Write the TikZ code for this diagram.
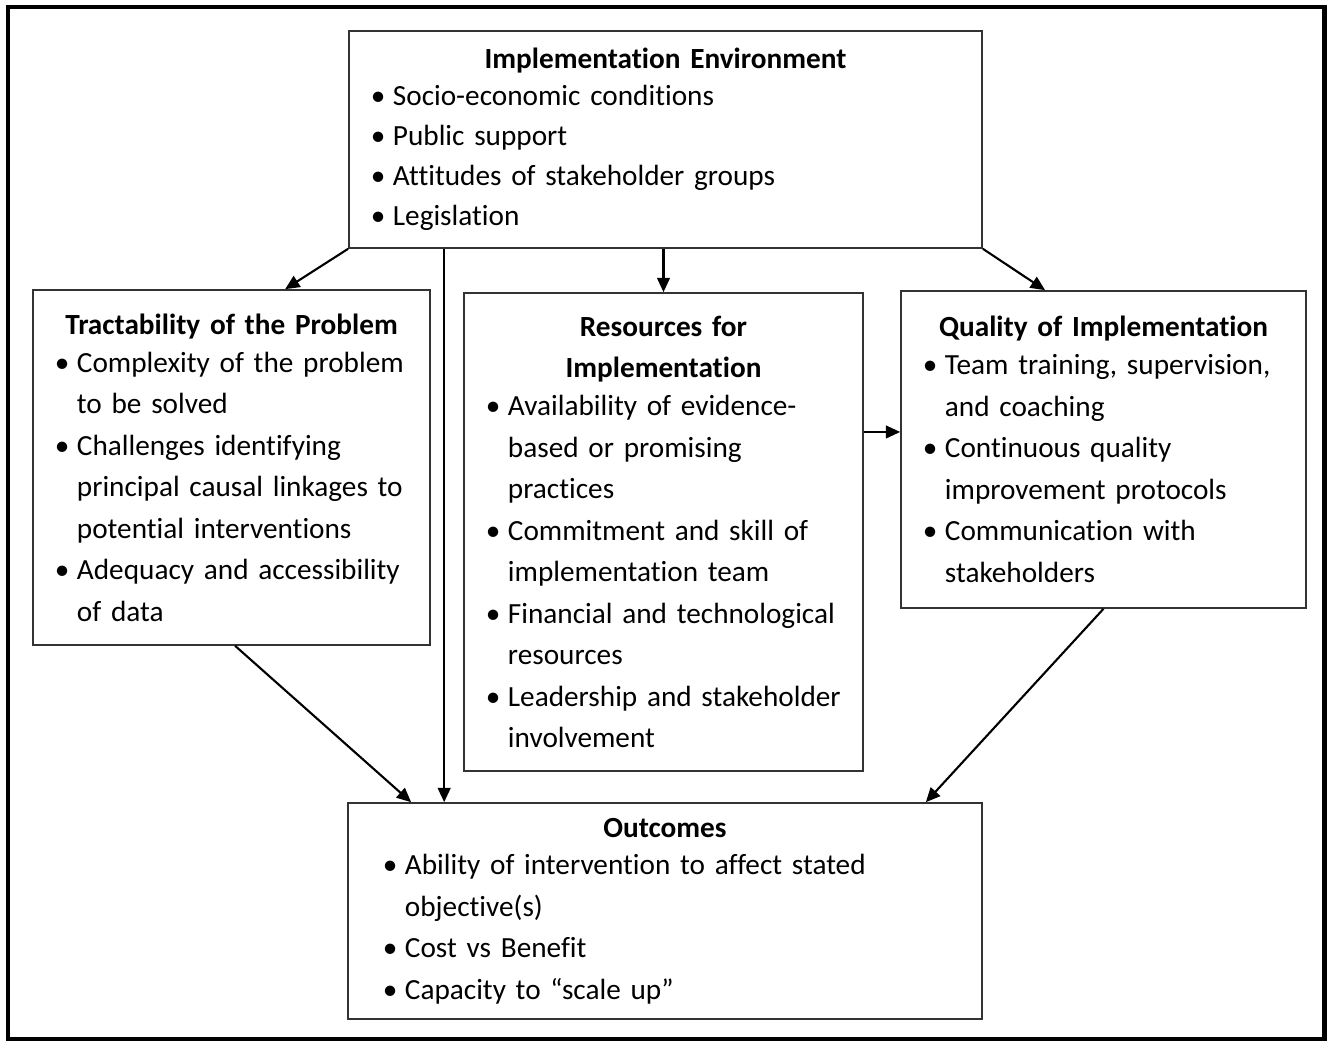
\documentclass[tikz,border=0pt]{standalone}
\usepackage{fontspec}
\setmainfont{Carlito}[Ligatures=NoCommon]
\usetikzlibrary{arrows.meta,calc,positioning}
\tikzset{
  box/.style={draw=black!80,line width=1.1pt,inner ysep=0pt,align=left,
    font=\fontsize{20.8pt}{29.5pt}\selectfont},
  arr/.style={-{Triangle[length=0.36cm,width=0.32cm]},line width=1.5pt},
}
\newcommand{\bitem}[1]{\par\hangindent=0.55cm\hangafter=1\noindent\makebox[0.55cm][l]{\textbullet}#1}
\newcommand{\boxtitle}[1]{{\centering\bfseries #1\par}\vspace{-2.5pt}}

\begin{document}
\begin{tikzpicture}[x=0.025cm,y=-0.025cm]
\useasboundingbox (0,0) rectangle (1330,1043);
\draw[line width=3.5pt] (8,7) rectangle (1324.5,1039);

\node[box,font=\fontsize{20.8pt}{28.5pt}\selectfont,inner xsep=0.55cm,text width=14.725cm,minimum height=5.425cm] (env) at (665.5,139.5) {%
  \boxtitle{Implementation Environment}
  \bitem{Socio-economic conditions}
  \bitem{Public support}
  \bitem{Attitudes of stakeholder groups}
  \bitem{Legislation}\par};
\node[box,inner xsep=0.55cm,text width=8.825cm,minimum height=8.875cm] (tract) at (231.5,467.5) {%
  \boxtitle{Tractability of the Problem}
  \bitem{Complexity of the problem\newline to be solved}
  \bitem{Challenges identifying\newline principal causal linkages to\newline potential interventions}
  \bitem{Adequacy and accessibility\newline of data}\par};
\node[box,inner xsep=0.55cm,text width=8.875cm,minimum height=11.95cm] (res) at (663.5,532) {%
  \boxtitle{Resources for\\Implementation}
  \bitem{Availability of evidence-\newline based or promising\newline practices}
  \bitem{Commitment and skill of\newline implementation team}
  \bitem{Financial and technological\newline resources}
  \bitem{Leadership and stakeholder\newline involvement}\par};
\node[box,inner xsep=0.55cm,text width=9.025cm,minimum height=7.925cm] (qual) at (1103.5,449.5) {%
  \boxtitle{Quality of Implementation}
  \bitem{Team training, supervision,\newline and coaching}
  \bitem{Continuous quality\newline improvement protocols}
  \bitem{Communication with\newline stakeholders}\par};
\node[box,inner xsep=0.875cm,text width=14.1cm,minimum height=5.4cm] (out) at (665,911) {%
  \boxtitle{Outcomes}
  \bitem{Ability of intervention to affect stated\newline objective(s)}
  \bitem{Cost vs Benefit}
  \bitem{Capacity to “scale up”}\par};

\draw[arr] (env.south west) -- ([xshift=1.34cm]tract.north);
\draw[arr] ([xshift=2.4cm]env.south west) coordinate (v) -- (v |- out.north);
\draw[arr] (res.north |- env.south) -- (res.north);
\draw[arr] (env.south east) -- ([xshift=-1.46cm]qual.north);
\draw[arr] ([yshift=2.5cm]res.east) coordinate (r) -- (r -| qual.west);
\draw[arr] ([xshift=0.09cm]tract.south) -- ([xshift=1.6cm]out.north west);
\draw[arr] (qual.south) -- ([xshift=-1.425cm]out.north east);
\end{tikzpicture}
\end{document}
